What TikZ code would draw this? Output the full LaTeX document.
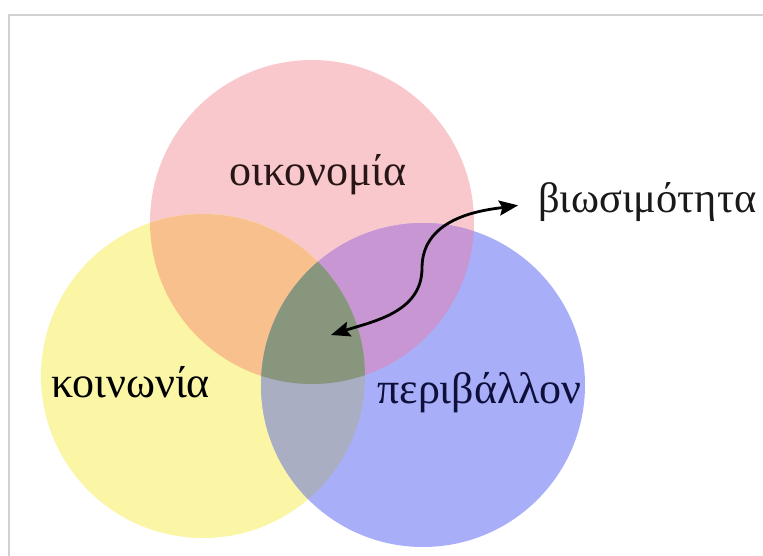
\documentclass[tikz,border=0pt]{standalone}
\usepackage{fontspec}
\setmainfont{Liberation Serif}
\usetikzlibrary{arrows.meta}

\definecolor{econpink}{RGB}{249,200,205}
\definecolor{socyellow}{RGB}{250,246,165}
\definecolor{envblue}{RGB}{168,175,248}
\definecolor{esorange}{RGB}{248,192,140}
\definecolor{eepurple}{RGB}{200,150,210}
\definecolor{segrey}{RGB}{170,174,195}
\definecolor{allgreen}{RGB}{135,150,125}
\definecolor{econtext}{RGB}{40,22,22}
\definecolor{envtext}{RGB}{15,15,60}

\begin{document}
\begin{tikzpicture}[x=1pt,y=-1pt,>={Stealth[length=19pt,width=15pt,inset=3pt]},
                    semithick]
  \tikzset{word/.style={anchor=base west,inner sep=0pt,
                        font=\fontsize{44}{50}\selectfont}}
  \def\vennr{162}

  \useasboundingbox (0,0) rectangle (763,556);
  \draw[black!18,line width=1.2pt] (9,556) -- (9,15) -- (763,15);

  \coordinate (econ) at (312,222);
  \coordinate (soc)  at (203,376);
  \coordinate (env)  at (423,385);

  % the three circles
  \fill[econpink]  (econ) circle (\vennr);
  \fill[socyellow] (soc)  circle (\vennr);
  \fill[envblue]   (env)  circle (\vennr);

  % overlaps
  \begin{scope}
    \clip (econ) circle (\vennr);
    \fill[esorange] (soc) circle (\vennr);
    \fill[eepurple] (env) circle (\vennr);
  \end{scope}
  \begin{scope}
    \clip (soc) circle (\vennr);
    \fill[segrey] (env) circle (\vennr);
    \clip (econ) circle (\vennr);
    \fill[allgreen] (env) circle (\vennr);
  \end{scope}

  \node[word,text=econtext] (econw) at (229,186) {οικονομία};
  \node[word]               (socw)  at (51,397)  {κοινωνία};
  \node[word,text=envtext]  (envw)  at (377,403) {περιβάλλον};
  \node[word,text=black!90,font=\fontsize{42.5}{50}\selectfont]
                            (sust)  at (538,213) {βιωσιμότητα};

  \coordinate (core) at (331,335);
  \coordinate (bend) at (422,268);

  \draw[<->,line width=2.8pt,shorten >=20pt]
    (core) to[out=18,in=-90] (bend) to[out=90,in=-172] (sust.west);
\end{tikzpicture}
\end{document}
